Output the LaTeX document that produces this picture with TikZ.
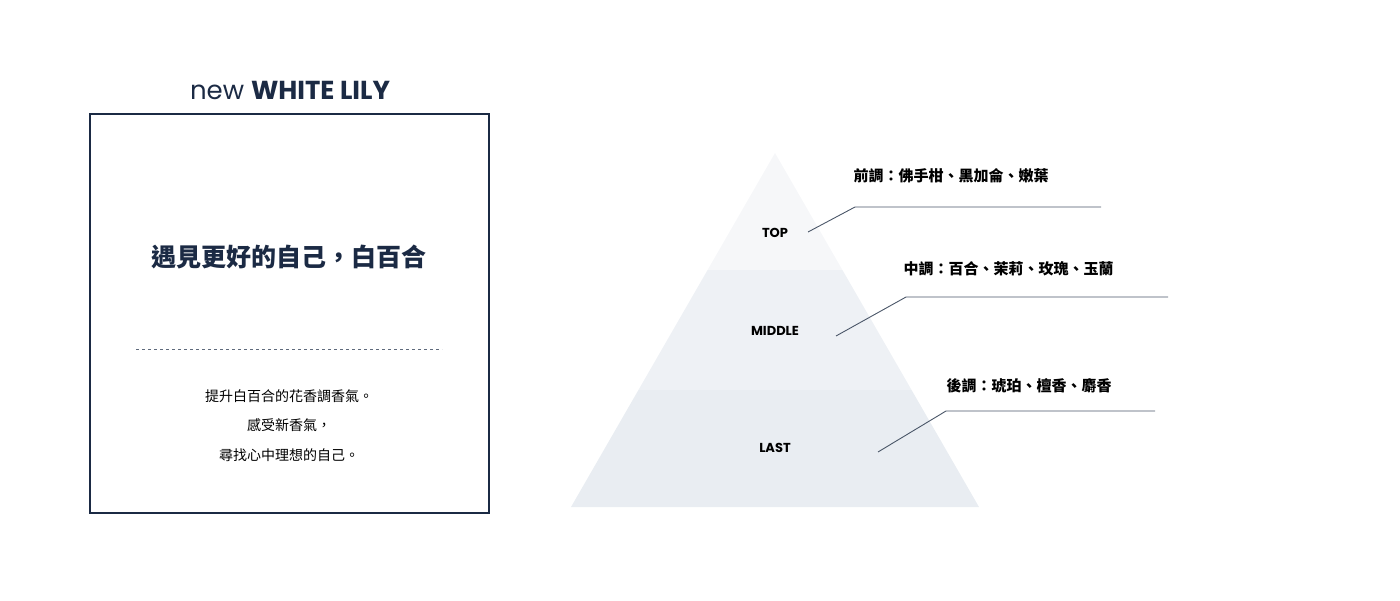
\documentclass[tikz,border=0pt]{standalone}
\usepackage{fontspec}
\setmainfont{Noto Sans CJK TC}
\newfontfamily\latinfont{Poppins}
\usetikzlibrary{positioning}
\definecolor{navy}{HTML}{1B2A44}
\definecolor{leader}{HTML}{4A5668}
\definecolor{bandtop}{HTML}{F6F7F9}
\definecolor{bandmid}{HTML}{EEF1F5}
\definecolor{bandlow}{HTML}{E9EDF2}
\tikzset{
    layer/.style={
           font=\latinfont\bfseries\fontsize{13}{15}\selectfont,
           text=black,
           },
    note/.style={
           font=\bfseries\fontsize{15}{18}\selectfont,
           anchor=west,
           text=black,
           },
    lead/.style={
           draw=leader,
           line width=0.9pt,
           },
}
\begin{document}
\begin{tikzpicture}[x=1pt,y=-1pt]
\useasboundingbox (0,0) rectangle (1400,600);
% left card
\node[font=\latinfont\fontsize{26}{30}\selectfont,text=navy](title) at (290,90){new \textbf{WHITE LILY}};
\draw[navy,line width=1.6pt] (90,114) rectangle (489,513);
\node[font=\bfseries\fontsize{25}{30}\selectfont,text=navy](motto) at (289,257){遇見更好的自己，白百合};
\draw[navy!70,dashed,line width=0.6pt] (136,349) -- (442,349);
\node[font=\fontsize{14}{17}\selectfont](lineA) at (289,396){提升白百合的花香調香氣。};
\node[font=\fontsize{14}{17}\selectfont](lineB) at (289,425){感受新香氣，};
\node[font=\fontsize{14}{17}\selectfont](lineC) at (289,455){尋找心中理想的自己。};
% pyramid
\begin{scope}
\clip (775,153) -- (979,507) -- (571,507) -- cycle;
\fill[bandlow] (560,390) rectangle (990,510);
\fill[bandmid] (560,270) rectangle (990,390);
\fill[bandtop] (560,150) rectangle (990,270);
\end{scope}
\node[layer](top) at (775,233){TOP};
\node[layer](middle) at (775,331){MIDDLE};
\node[layer](last) at (775,448){LAST};
% notes
\node[note](topnote) at (850,176){前調：佛手柑、黑加侖、嫩葉};
\node[note](midnote) at (900,269){中調：百合、茉莉、玫瑰、玉蘭};
\node[note](lastnote) at (943,386){後調：琥珀、檀香、麝香};
\coordinate (tA) at (808,232); \coordinate (tB) at (855,207); \coordinate (tC) at (1101,207);
\coordinate (mA) at (836,336); \coordinate (mB) at (906,297); \coordinate (mC) at (1168,297);
\coordinate (lA) at (878,452); \coordinate (lB) at (946,411); \coordinate (lC) at (1155,411);
\draw[lead] (tA) -- (tB) -- (tC);
\draw[lead] (mA) -- (mB) -- (mC);
\draw[lead] (lA) -- (lB) -- (lC);
\end{tikzpicture}
\end{document}
